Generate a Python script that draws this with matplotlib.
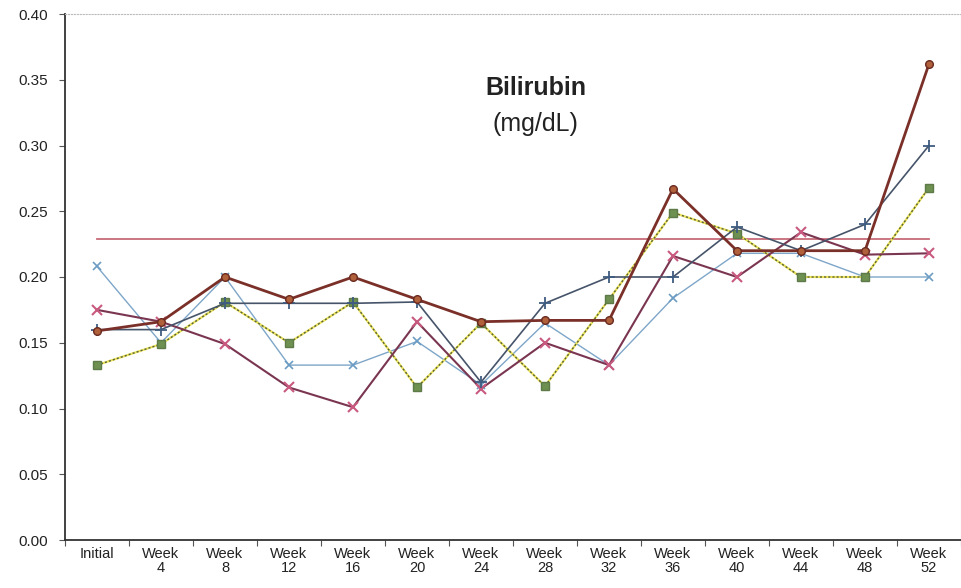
import matplotlib
matplotlib.use("Agg")
import matplotlib.pyplot as plt
import numpy as np

plt.rcParams['font.family'] = ['Liberation Sans', 'DejaVu Sans']

categories = ["Initial", "Week\n4", "Week\n8", "Week\n12", "Week\n16", "Week\n20", "Week\n24",
              "Week\n28", "Week\n32", "Week\n36", "Week\n40", "Week\n44", "Week\n48", "Week\n52"]

brown_circle = [0.159, 0.166, 0.200, 0.183, 0.200, 0.183, 0.166, 0.167, 0.167, 0.267, 0.220, 0.220, 0.220, 0.362]
slate_plus   = [0.160, 0.160, 0.180, 0.180, 0.180, 0.181, 0.120, 0.180, 0.200, 0.200, 0.238, 0.220, 0.240, 0.300]
green_square = [0.133, 0.149, 0.181, 0.150, 0.181, 0.116, 0.165, 0.117, 0.183, 0.249, 0.233, 0.200, 0.200, 0.268]
blue_x       = [0.208, 0.150, 0.200, 0.133, 0.133, 0.151, 0.118, 0.165, 0.133, 0.184, 0.218, 0.218, 0.200, 0.200]
maroon_x     = [0.175, 0.166, 0.149, 0.116, 0.101, 0.166, 0.115, 0.150, 0.133, 0.216, 0.200, 0.234, 0.217, 0.218]
limit_line   = [0.229] * 14

yticks = [0.00, 0.05, 0.10, 0.15, 0.20, 0.25, 0.30, 0.35, 0.40]

fig = plt.figure(figsize=(9.61, 5.88), dpi=100)
ax = fig.add_axes([65/961, 48/588, 896/961, 526/588])

x = np.arange(len(categories))

ax.plot(x, limit_line, color='#C86A78', lw=1.3, zorder=2)
ax.plot(x, blue_x, color='#7EA6C8', lw=1.0, marker='x', ms=6, mew=1.2, mec='#6C9CC4', zorder=3)
ax.plot(x, green_square, color='#EDE45A', lw=1.6, zorder=3)
ax.plot(x, green_square, color='#55603A', lw=1.0, ls=(0, (1.5, 1.5)), marker='s', ms=6,
        mfc='#6E9050', mec='#5E7A48', zorder=4)
ax.plot(x, maroon_x, color='#7A3550', lw=1.5, marker='x', ms=7, mew=1.5, mec='#C85A80', zorder=4)
ax.plot(x, slate_plus, color='#46546A', lw=1.2, marker='+', ms=8, mew=1.3, mec='#3E5C80', zorder=5)
ax.plot(x, brown_circle, color='#7A3028', lw=2.0, marker='o', ms=5.5, mfc='#B0603A', mec='#6A2A20', zorder=6)

ax.set_xlim(-0.5, 13.45)
ax.set_ylim(0, 0.40)
ax.set_yticks(yticks)
ax.set_yticklabels([f"{v:.2f}" for v in yticks], fontsize=11, color='#222222')
ax.set_xticks(x)
ax.set_xticklabels(categories, fontsize=10.5, color='#222222', linespacing=1.0)
ax.set_xticks(np.arange(-0.5, 14, 1), minor=True)
ax.tick_params(axis='x', which='major', length=0, pad=5)
ax.tick_params(axis='x', which='minor', length=4, width=0.8, direction='out', color='#555555')
ax.tick_params(axis='y', length=4, width=0.8, direction='out', color='#555555', pad=8)

for s in ['left', 'bottom']:
    ax.spines[s].set_color('#333333')
    ax.spines[s].set_linewidth(1.3)
for s in ['top', 'right']:
    ax.spines[s].set_color('#BBBBBB')
    ax.spines[s].set_linewidth(0.8)
    ax.spines[s].set_linestyle(':')

fig.text(536/961, 1 - 88/588, "Bilirubin", fontsize=18, fontweight='bold', ha='center', va='center', color='#222222')
fig.text(535/961, 1 - 124/588, "(mg/dL)", fontsize=18, ha='center', va='center', color='#222222')

fig.savefig("out.png", dpi=100)
